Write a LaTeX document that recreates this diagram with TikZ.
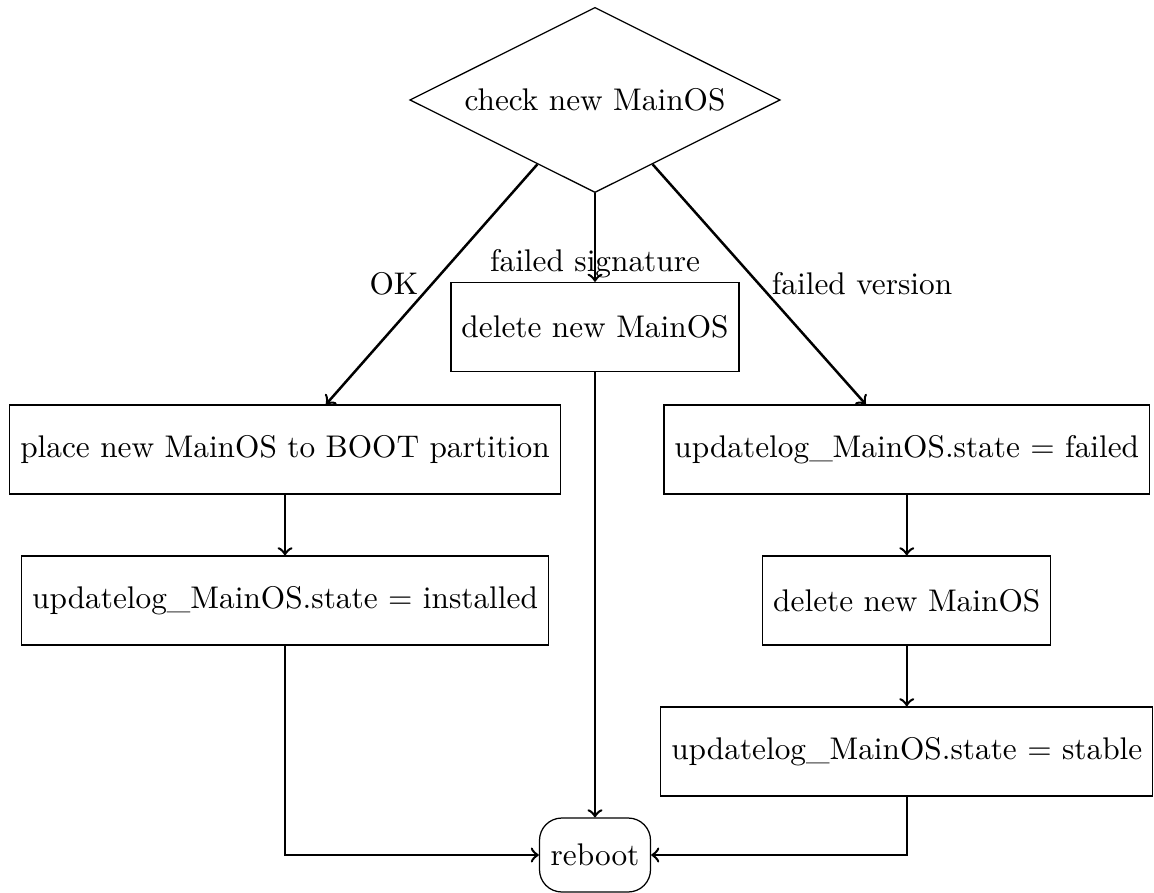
\documentclass[tikz,border=0pt]{standalone}
\usetikzlibrary{shapes.geometric,calc}

\tikzset{
  process/.style={draw, rectangle, minimum height=1cm, inner sep=0.3333em},
  decision/.style={draw, diamond, aspect=2, inner sep=3.4pt},
  terminal/.style={draw, rectangle, rounded corners=2.5mm, minimum height=0.83cm, minimum width=1.246cm},
  flow/.style={->, thick},
  edgelabel/.style={anchor=base, inner sep=0pt}
}

\begin{document}
\begin{tikzpicture}
  \useasboundingbox (0,0) rectangle (12.952,-10.022);

  % decision and process steps
  \node[decision] (check) at (6.678,-1.122) {check new MainOS};
  \node[process] (del1) at (6.678,-3.670) {delete new MainOS};
  \node[process] (place) at (3.199,-5.045) {place new MainOS to BOOT partition};
  \node[process] (inst) at (3.199,-6.740) {updatelog\_MainOS.state = installed};
  \node[process] (fail) at (10.177,-5.045) {updatelog\_MainOS.state = failed};
  \node[process] (del2) at (10.177,-6.740) {delete new MainOS};
  \node[process] (stable) at (10.177,-8.434) {updatelog\_MainOS.state = stable};
  \node[terminal] (reboot) at (6.678,-9.596) {reboot};

  % branch labels
  \node[edgelabel] (lok) at (4.422,-3.300) {OK};
  \node[edgelabel] (lsig) at (6.678,-3.042) {failed signature};
  \node[edgelabel] (lver) at (9.675,-3.300) {failed version};

  % branches out of the check
  \draw[flow] ($(check.west)!0.69!(check.south)$) -- ([xshift=0.46cm]place.north);
  \draw[flow] (check.south) -- (del1.north);
  \draw[flow] ($(check.east)!0.69!(check.south)$) -- ([xshift=-0.46cm]fail.north);

  % sequential steps
  \draw[flow] (place) -- (inst);
  \draw[flow] (fail) -- (del2);
  \draw[flow] (del2) -- (stable);

  % everything ends in a reboot
  \draw[flow] (inst.south) |- (reboot.west);
  \draw[flow] (del1.south) -- (reboot.north);
  \draw[flow] (stable.south) |- (reboot.east);
\end{tikzpicture}
\end{document}
